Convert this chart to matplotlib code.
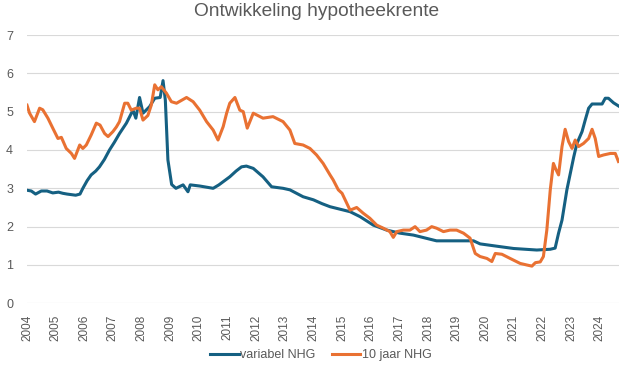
import matplotlib
matplotlib.use("Agg")
import matplotlib.pyplot as plt

plt.rcParams['font.family'] = ['Liberation Sans', 'DejaVu Sans']

title = "Ontwikkeling hypotheekrente"
series_names = ["variabel NHG", "10 jaar NHG"]
year_ticks = list(range(2004, 2025))
y_ticks = list(range(0, 8))

years_var = [2004.0, 2004.15, 2004.3, 2004.5, 2004.7, 2004.9, 2005.1, 2005.25, 2005.4, 2005.7,
             2005.85, 2005.95, 2006.1, 2006.24, 2006.4, 2006.53, 2006.7, 2006.88, 2007.05, 2007.23,
             2007.47, 2007.7, 2007.8, 2007.93, 2008.05, 2008.28, 2008.46, 2008.65, 2008.75, 2008.83,
             2008.92, 2009.05, 2009.2, 2009.45, 2009.62, 2009.7, 2010.03, 2010.5, 2010.7, 2011.08,
             2011.3, 2011.49, 2011.66, 2011.9, 2012.24, 2012.54, 2012.94, 2013.18, 2013.64, 2014.0,
             2014.3, 2014.58, 2015.28, 2015.63, 2016.09, 2016.56, 2017.02, 2017.49, 2018.19, 2018.3,
             2019.59, 2019.82, 2020.4, 2020.99, 2021.8, 2022.27, 2022.44, 2022.56, 2022.68, 2022.85,
             2022.97, 2023.09, 2023.2, 2023.38, 2023.49, 2023.61, 2023.73, 2024.08, 2024.19, 2024.3,
             2024.48, 2024.65]
rate_var = [2.95, 2.93, 2.85, 2.93, 2.93, 2.88, 2.9, 2.87, 2.85, 2.82,
            2.85, 3.0, 3.2, 3.35, 3.45, 3.56, 3.75, 4.0, 4.2, 4.43,
            4.7, 5.04, 4.83, 5.37, 4.96, 5.13, 5.35, 5.37, 5.81, 5.3,
            3.74, 3.1, 3.0, 3.09, 2.91, 3.09, 3.06, 3.0, 3.09, 3.3,
            3.45, 3.56, 3.58, 3.52, 3.3, 3.04, 3.0, 2.96, 2.78, 2.7,
            2.6, 2.52, 2.39, 2.26, 2.04, 1.91, 1.83, 1.78, 1.65, 1.63,
            1.63, 1.55, 1.49, 1.43, 1.39, 1.41, 1.44, 1.83, 2.17, 2.96,
            3.39, 3.82, 4.17, 4.48, 4.78, 5.09, 5.2, 5.2, 5.35, 5.35,
            5.23, 5.15]

years_10 = [2004.0, 2004.09, 2004.26, 2004.44, 2004.55, 2004.73, 2004.9, 2005.08, 2005.2, 2005.37,
            2005.55, 2005.66, 2005.84, 2005.95, 2006.07, 2006.24, 2006.42, 2006.55, 2006.71, 2006.83,
            2007.0, 2007.12, 2007.23, 2007.41, 2007.52, 2007.64, 2007.81, 2007.93, 2008.05, 2008.22,
            2008.34, 2008.46, 2008.57, 2008.69, 2008.87, 2009.04, 2009.22, 2009.57, 2009.8, 2010.03,
            2010.27, 2010.5, 2010.67, 2010.85, 2010.97, 2011.08, 2011.26, 2011.43, 2011.55, 2011.69,
            2011.9, 2012.24, 2012.59, 2012.94, 2013.18, 2013.35, 2013.64, 2013.88, 2014.11, 2014.34,
            2014.58, 2014.69, 2014.87, 2015.0, 2015.28, 2015.51, 2015.74, 2015.97, 2016.21, 2016.44,
            2016.67, 2016.79, 2016.91, 2017.14, 2017.37, 2017.55, 2017.72, 2017.95, 2018.13, 2018.3,
            2018.54, 2018.77, 2019.0, 2019.24, 2019.47, 2019.65, 2019.82, 2020.06, 2020.23, 2020.35,
            2020.58, 2020.87, 2021.22, 2021.45, 2021.63, 2021.75, 2021.92, 2022.03, 2022.15, 2022.27,
            2022.38, 2022.45, 2022.56, 2022.68, 2022.79, 2022.91, 2023.03, 2023.14, 2023.26, 2023.43,
            2023.61, 2023.73, 2023.84, 2023.96, 2024.13, 2024.37, 2024.54, 2024.65]
rate_10 = [5.17, 4.96, 4.74, 5.09, 5.05, 4.83, 4.57, 4.3, 4.33, 4.04,
           3.91, 3.78, 4.13, 4.04, 4.13, 4.39, 4.7, 4.65, 4.43, 4.35,
           4.48, 4.6, 4.74, 5.22, 5.22, 5.04, 5.09, 5.09, 4.78, 4.9,
           5.17, 5.7, 5.57, 5.65, 5.48, 5.26, 5.22, 5.37, 5.26, 5.04,
           4.74, 4.52, 4.26, 4.61, 4.96, 5.22, 5.37, 5.04, 5.0, 4.57,
           4.96, 4.83, 4.87, 4.74, 4.52, 4.17, 4.13, 4.04, 3.87, 3.65,
           3.35, 3.22, 2.96, 2.87, 2.43, 2.5, 2.35, 2.22, 2.04, 1.96,
           1.87, 1.72, 1.87, 1.91, 1.91, 2.0, 1.87, 1.91, 2.0, 1.96,
           1.87, 1.91, 1.91, 1.83, 1.7, 1.3, 1.22, 1.17, 1.09, 1.3,
           1.28, 1.17, 1.04, 1.0, 0.97, 1.06, 1.08, 1.22, 1.91, 2.96,
           3.65, 3.52, 3.35, 4.09, 4.54, 4.22, 4.04, 4.26, 4.09, 4.17,
           4.3, 4.54, 4.3, 3.83, 3.87, 3.91, 3.91, 3.7]

text_color = "#595959"
fig = plt.figure(figsize=(6.25, 3.68), dpi=100)
ax = fig.add_axes([27 / 625, 1 - 303.3 / 368, (619 - 27) / 625, (303.3 - 35) / 368])

ax.plot(years_var, rate_var, color="#156082", lw=2.2, label=series_names[0], solid_joinstyle="round")
ax.plot(years_10, rate_10, color="#E97132", lw=2.2, label=series_names[1], solid_joinstyle="round")

ax.set_xlim(2004, 2024.67)
ax.set_ylim(0, 7)
ax.set_yticks(y_ticks)
ax.set_xticks(year_ticks)
ax.set_xticklabels([str(y) for y in year_ticks], rotation=90, color=text_color, fontsize=8.5)
ax.tick_params(axis='y', colors=text_color, labelsize=9, length=0, pad=10)
ax.tick_params(axis='x', length=0, pad=8)
ax.grid(axis='y', color="#d9d9d9", lw=0.8)
ax.set_axisbelow(True)
for s in ax.spines.values():
    s.set_visible(False)

fig.text(316.5 / 625, 1 - 12 / 368, title, ha="center", va="center", fontsize=13.8, color=text_color)
fig.legend(loc="center", bbox_to_anchor=(0.513, 1 - 355 / 368), ncol=2, frameon=False,
           fontsize=9, handlelength=2.3, handletextpad=0.1, columnspacing=1.3,
           labelcolor=text_color)

fig.savefig("out.png", dpi=100, facecolor="white")
